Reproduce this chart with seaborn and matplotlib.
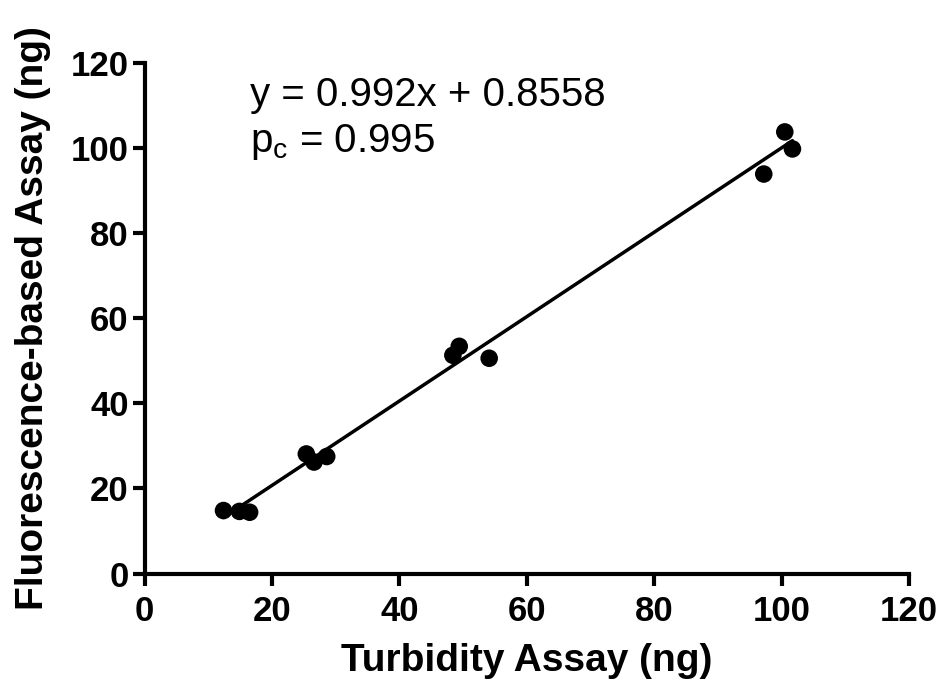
import matplotlib
matplotlib.use("Agg")
import matplotlib.pyplot as plt
import seaborn as sns
import numpy as np
import pandas as pd

turbidity = [12.4, 14.9, 16.5, 25.4, 26.6, 28.6, 48.4, 49.4, 54.1, 97.2, 100.5, 101.7]
fluorescence = [14.8, 14.6, 14.4, 28.1, 26.2, 27.5, 51.3, 53.4, 50.6, 93.9, 103.8, 99.8]
slope = 0.992
intercept = 0.8558
ticks = [0, 20, 40, 60, 80, 100, 120]

sns.set_theme(style="ticks")
plt.rcParams['font.family'] = ['Liberation Sans', 'DejaVu Sans']
plt.rcParams['mathtext.fontset'] = 'custom'
plt.rcParams['mathtext.rm'] = 'Liberation Sans'
plt.rcParams['text.color'] = 'black'
plt.rcParams['axes.labelcolor'] = 'black'
plt.rcParams['xtick.color'] = 'black'
plt.rcParams['ytick.color'] = 'black'
plt.rcParams['axes.edgecolor'] = 'black'

fig = plt.figure(figsize=(9.42, 6.87), dpi=100)
ax = fig.add_axes([0.1534, 0.1652, 0.8116, 0.7431])

df = pd.DataFrame({"x": turbidity, "y": fluorescence})
xs = np.array([min(turbidity), max(turbidity)])
line = pd.DataFrame({"x": xs, "y": slope * xs + intercept})

sns.lineplot(data=line, x="x", y="y", ax=ax, color="black", linewidth=2.5)
sns.scatterplot(data=df, x="x", y="y", ax=ax, color="black", s=160, edgecolor="none", zorder=3)

ax.set_xlim(0, 120)
ax.set_ylim(0, 120)
ax.set_xticks(ticks)
ax.set_yticks(ticks)
ax.set_xticklabels([str(t) for t in ticks], fontsize=25, fontweight="bold")
ax.set_yticklabels([str(t) for t in ticks], fontsize=25, fontweight="bold")
for s in ["top", "right"]:
    ax.spines[s].set_visible(False)
for s in ["left", "bottom"]:
    ax.spines[s].set_linewidth(3)
ax.tick_params(axis="both", width=3, length=8.5, direction="out")
ax.tick_params(axis="x", pad=7)
ax.tick_params(axis="y", pad=3)
ax.set_xlabel("Turbidity Assay (ng)", fontsize=28, fontweight="bold", labelpad=11)
ax.set_ylabel("Fluorescence-based Assay (ng)", fontsize=28, fontweight="bold", labelpad=14)

ax.text(16.6, 109.9, "y = 0.992x + 0.8558", fontsize=29, va="baseline", ha="left")
ax.text(16.6, 99.1, r"p$_\mathregular{c}$ = 0.995", fontsize=29, va="baseline", ha="left")

fig.savefig("out.png", dpi=100)
